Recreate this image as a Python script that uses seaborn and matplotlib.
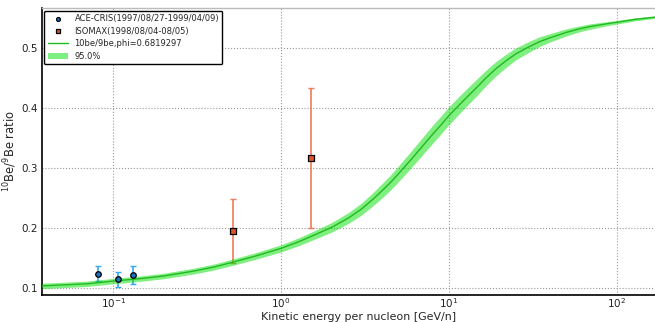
import numpy as np
import pandas as pd
import matplotlib
matplotlib.use("Agg")
import matplotlib.pyplot as plt
import seaborn as sns

# Model curve: 10Be/9Be ratio vs kinetic energy per nucleon
energy = [0.0376, 0.05, 0.07, 0.1, 0.15, 0.2, 0.3, 0.4, 0.5, 0.7, 1.0, 1.3,
          1.6, 2.0, 2.5, 3.0, 3.5, 4.0, 4.5, 5.0, 6.0, 7.0, 8.0, 9.0, 10.0,
          11.0, 12.5, 14.4, 16.5, 19.0, 22.0, 25.0, 30.0, 35.0, 40.0, 50.0,
          60.0, 70.0, 85.0, 100.0, 130.0, 176.0]
ratio = [0.1035, 0.105, 0.107, 0.1115, 0.116, 0.120, 0.128, 0.135, 0.142, 0.153,
         0.166, 0.178, 0.189, 0.201, 0.216, 0.231, 0.247, 0.262, 0.276, 0.290,
         0.315, 0.337, 0.356, 0.372, 0.387, 0.399, 0.415, 0.432, 0.449, 0.465,
         0.479, 0.490, 0.502, 0.511, 0.517, 0.526, 0.532, 0.536, 0.540, 0.543,
         0.548, 0.552]
half_width = [0.0045, 0.0045, 0.0045, 0.0045, 0.0045, 0.0046, 0.0048, 0.005, 0.0052,
              0.0055, 0.006, 0.0066, 0.0072, 0.008, 0.009, 0.010, 0.011, 0.012, 0.0125,
              0.013, 0.014, 0.0145, 0.015, 0.015, 0.015, 0.0148, 0.0144, 0.014, 0.013,
              0.012, 0.011, 0.010, 0.009, 0.008, 0.007, 0.006, 0.005, 0.0045, 0.0035,
              0.003, 0.0025, 0.002]

# ACE-CRIS measurements
ace_e = [0.081, 0.1067, 0.1318]
ace_r = [0.1233, 0.115, 0.1217]
ace_lo = [0.0113, 0.013, 0.0157]
ace_hi = [0.0134, 0.0122, 0.0153]

# ISOMAX measurements
iso_e = [0.514, 1.51]
iso_r = [0.195, 0.317]
iso_err = [0.053, 0.117]

lab_ace = "ACE-CRIS(1997/08/27-1999/04/09)"
lab_iso = "ISOMAX(1998/08/04-08/05)"
lab_model = "10be/9be,phi=0.6819297"
lab_band = "95.0%"

sns.set_theme(style="whitegrid")
plt.rcParams["font.family"] = ["DejaVu Sans"]

fig = plt.figure(figsize=(6.55, 3.22), dpi=100)
ax = fig.add_axes([0.0641, 0.0839, 0.94, 0.891])
ax.set_facecolor("white")

model = pd.DataFrame({"E": energy, "R": ratio, "W": half_width})
lower = model["R"] - model["W"]
upper = model["R"] + model["W"]

# Measurement error bars (under the band)
ax.errorbar(ace_e, ace_r, yerr=[ace_lo, ace_hi], fmt="none", ecolor="#3aa8f0",
            elinewidth=1.2, capsize=2.5, capthick=1.0, zorder=2)
ax.errorbar(iso_e, iso_r, yerr=iso_err, fmt="none", ecolor="#f07a5a",
            elinewidth=1.2, capsize=2.5, capthick=1.0, zorder=2)

# Confidence band and model line
ax.fill_between(model["E"], lower, upper, color="#00e000", alpha=0.5,
                linewidth=0, zorder=3, label=lab_band)
sns.lineplot(data=model, x="E", y="R", ax=ax, color="#22b822", linewidth=1.0,
             zorder=4, label=lab_model)

# Measurement points
sns.scatterplot(x=ace_e, y=ace_r, ax=ax, marker="o", s=16, color="#1f6fc0",
                edgecolor="black", linewidth=0.9, zorder=5, label=lab_ace)
sns.scatterplot(x=iso_e, y=iso_r, ax=ax, marker="s", s=14, color="#e0562a",
                edgecolor="black", linewidth=0.9, zorder=5, label=lab_iso)

ax.set_xscale("log")
ax.set_xlim(0.0376, 176)
ax.set_ylim(0.0883, 0.5667)
ax.set_yticks([0.1, 0.2, 0.3, 0.4, 0.5])
ax.set_xticks([0.1, 1, 10, 100])
ax.xaxis.set_minor_locator(matplotlib.ticker.NullLocator())

ax.grid(True, which="major", linestyle=":", color="#999999", linewidth=0.8)
ax.tick_params(axis="x", labelsize=7.5, length=0, pad=1.0, labelcolor="#222222")
ax.tick_params(axis="y", labelsize=7.5, length=0, pad=3, labelcolor="#222222")

for side in ("left", "bottom"):
    ax.spines[side].set_color("black")
    ax.spines[side].set_linewidth(1.2)
ax.spines["top"].set_color("#bbbbbb")
ax.spines["top"].set_linewidth(1.0)
ax.spines["right"].set_visible(False)

ax.set_xlabel("Kinetic energy per nucleon [GeV/n]", fontsize=7.9)
ax.set_ylabel(r"$^{10}$Be/$^{9}$Be ratio", fontsize=8.3)
ax.xaxis.set_label_coords(0.514, -0.075)
ax.yaxis.set_label_coords(-0.052, 0.5)
ax.xaxis.label.set_va("center")
ax.yaxis.label.set_va("center")

handles, labels = ax.get_legend_handles_labels()
order = [labels.index(l) for l in (lab_ace, lab_iso, lab_model, lab_band)]
leg = ax.legend([handles[i] for i in order], [labels[i] for i in order],
                loc="upper left", fontsize=6.0, frameon=True, fancybox=True,
                borderaxespad=0.3, handlelength=2.4, markerscale=0.7,
                labelspacing=0.45)
leg.get_frame().set_edgecolor("black")
leg.get_frame().set_linewidth(1.0)
leg.get_frame().set_alpha(1.0)

fig.savefig("out.png", dpi=100)
